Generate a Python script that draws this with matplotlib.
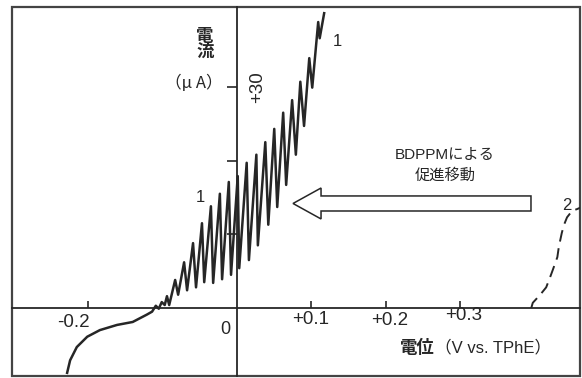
import matplotlib
matplotlib.use("Agg")
import matplotlib.pyplot as plt
import matplotlib.patches as mpatches

plt.rcParams["font.family"] = ["Liberation Sans", "Noto Sans CJK JP", "DejaVu Sans"]

# curve 1 (with BDPPM): vertices of the oscillating trace, potential (V vs. TPhE) / current (uA)
E1 = [-0.228, -0.224, -0.215, -0.201, -0.184, -0.161, -0.140, -0.121, -0.114, -0.109,
      -0.105, -0.101, -0.097, -0.094, -0.091, -0.083, -0.079, -0.071, -0.067, -0.059,
      -0.055, -0.047, -0.044, -0.035, -0.032, -0.023, -0.020, -0.011, -0.008, 0.001,
      0.003, 0.013, 0.016, 0.026, 0.028, 0.038, 0.042, 0.050, 0.054, 0.062,
      0.066, 0.074, 0.079, 0.085, 0.090, 0.097, 0.101, 0.109, 0.111, 0.117]
I1 = [-8.8, -7.1, -5.3, -3.9, -3.0, -2.3, -1.9, -0.9, -0.5, 0.3,
      -0.1, 0.8, 0.4, 1.6, 0.4, 3.8, 1.8, 6.2, 2.4, 8.8,
      2.8, 11.5, 3.5, 13.8, 3.4, 15.5, 3.9, 17.1, 4.5, 17.9,
      5.4, 19.7, 6.5, 20.8, 8.5, 22.5, 11.3, 24.3, 13.7, 26.5,
      16.7, 28.2, 20.8, 30.7, 24.7, 33.9, 29.9, 38.8, 36.6, 40.0]

# curve 2 (without BDPPM), dashed
E2 = [0.395, 0.397, 0.407, 0.415, 0.420, 0.424, 0.430, 0.432, 0.436, 0.439,
      0.443, 0.450, 0.456, 0.463]
I2 = [0.0, 0.7, 1.8, 2.8, 4.1, 5.2, 6.9, 8.3, 10.2, 11.3,
      12.3, 13.2, 13.4, 13.7]

XTICKS = [-0.2, 0.1, 0.2, 0.3]
XTICK_LABELS = ["-0.2", "+0.1", "+0.2", "+0.3"]
YTICKS = [10, 20, 30]

W, H = 582, 378
INK = "#262626"


def px(x, y):
    # pixel position in the picture -> figure fraction
    return x / W, 1 - y / H


fig = plt.figure(figsize=(W / 100, H / 100), dpi=100)
ax = fig.add_axes([12 / W, 1 - 376 / H, 568 / W, 369 / H])
ax.set_xlim(-0.302, 0.4604)
ax.set_ylim(-9.23, 40.84)

# axes through the origin, plus an outer frame
for s in ("top", "right"):
    ax.spines[s].set_visible(False)
ax.spines["left"].set_position(("data", 0))
ax.spines["bottom"].set_position(("data", 0))
for s in ("left", "bottom"):
    ax.spines[s].set_color(INK); ax.spines[s].set_linewidth(1.3)
ax.add_patch(mpatches.Rectangle((0, 0), 1, 1, transform=ax.transAxes, fill=False,
                                ec="#444444", lw=1.6, clip_on=False))

ax.set_xticks(XTICKS)
ax.set_yticks(YTICKS)
ax.tick_params(axis="x", direction="in", length=5, width=1.2, color=INK, labelbottom=False)
ax.tick_params(axis="y", direction="out", length=7, width=1.2, color=INK, labelleft=False)
offs = [(-15, -15), (-1, -12), (4, -13), (3, -8)]
for x, lab, (dx, dy) in zip(XTICKS, XTICK_LABELS, offs):
    ax.annotate(lab, xy=(x, 0), xytext=(dx, dy), textcoords="offset pixels",
                ha="center", va="center", fontsize=13.5, color=INK)

ax.plot(E1, I1, color=INK, lw=1.8)
ax.plot(E2, I2, color=INK, lw=1.4, dashes=(6, 3.5))

ax.add_patch(mpatches.FancyArrow(0.3946, 14.18, 0.0752 - 0.3946, 0, width=2.04,
                                 head_width=4.2, head_length=0.0376,
                                 length_includes_head=True, fc="white", ec=INK, lw=1.1))

fig.text(*px(205, 44), "電\n流", ha="center", va="center", fontsize=12.5,
         fontweight="bold", linespacing=1.0, color=INK)
fig.text(*px(194, 83), "（μ A）", ha="center", va="center", fontsize=12, color=INK,
         family=["Noto Sans CJK JP", "DejaVu Sans"])
fig.text(*px(258, 87), "+30", ha="center", va="center", fontsize=13.5, rotation=90, color=INK)
fig.text(*px(225, 330), "0", ha="center", va="center", fontsize=13, color=INK)
fig.text(*px(200, 198), "1", ha="center", va="center", fontsize=12, color=INK)
fig.text(*px(337, 42), "1", ha="center", va="center", fontsize=12, color=INK)
fig.text(*px(567, 205), "2", ha="center", va="center", fontsize=12, color=INK)
fig.text(*px(445, 155), "BDPPMによる", ha="center", va="center", fontsize=11, color=INK)
fig.text(*px(445, 176), "促進移動", ha="center", va="center", fontsize=11, color=INK)
fig.text(*px(400, 347), "電位", ha="left", va="center", fontsize=12.5, fontweight="bold", color=INK)
fig.text(*px(435, 347), "（V vs. TPhE）", ha="left", va="center", fontsize=12, color=INK)

fig.savefig("out.png", dpi=100)
